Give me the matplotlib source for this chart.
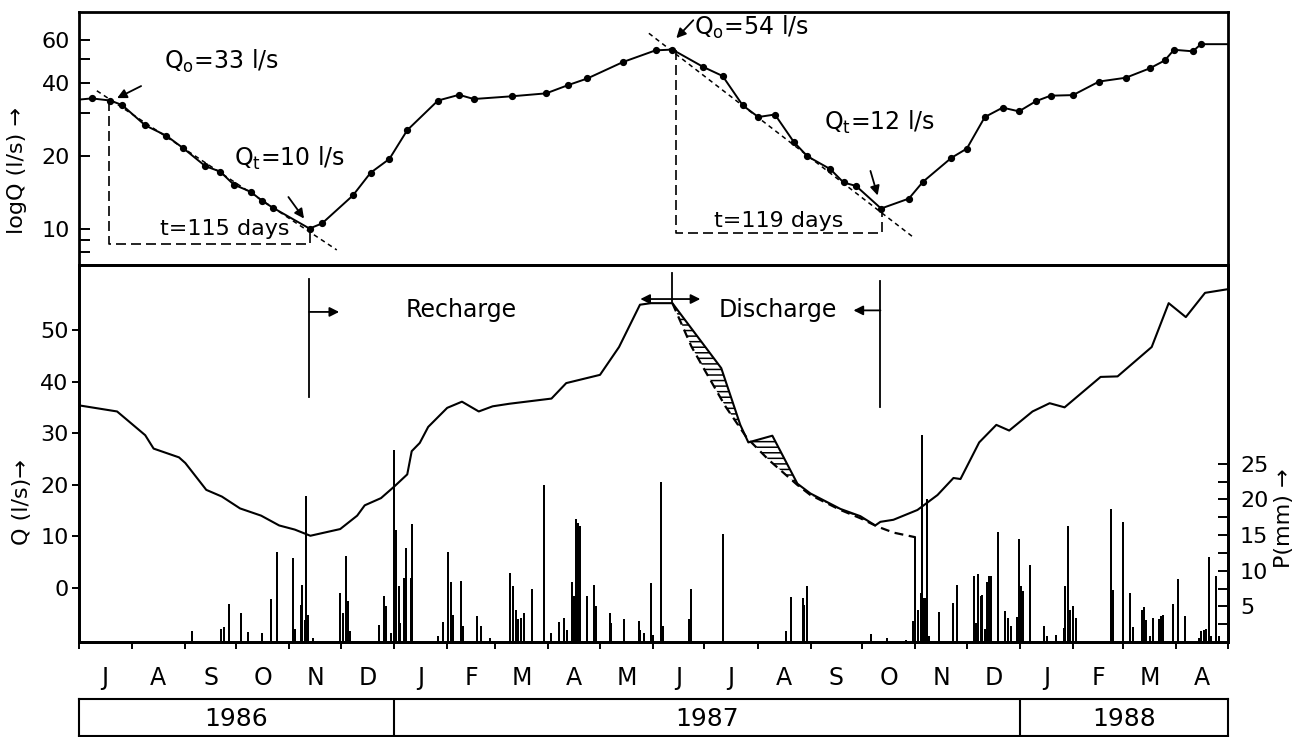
import numpy as np
import pandas as pd
import matplotlib
matplotlib.use("Agg")
import matplotlib.pyplot as plt
from matplotlib.ticker import FixedLocator, FixedFormatter, NullFormatter

plt.rcParams['font.family'] = ['DejaVu Sans']
plt.rcParams['hatch.linewidth'] = 1.1

# x values: days since 1 July 1986
START = pd.Timestamp('1986-07-01')
month_starts = pd.date_range('1986-07-01', '1988-05-01', freq='MS')
month_letters = ['J', 'A', 'S', 'O', 'N', 'D', 'J', 'F', 'M', 'A', 'M',
                 'J', 'J', 'A', 'S', 'O', 'N', 'D', 'J', 'F', 'M', 'A']
years = ['1986', '1987', '1988']
year_bounds = ['1986-07-01', '1987-01-01', '1988-01-01', '1988-05-01']

# top panel: log discharge (l/s)
logq_day = [0, 7.8, 18.6, 25.4, 38.9, 51.2, 61.0, 74.0, 82.6, 90.5,
            100.3, 107.2, 113.3, 134.7, 142.0, 160.0, 170.3, 181.3, 191.7, 209.6,
            221.9, 230.5, 252.6, 272.7, 285.7, 296.7, 317.6, 336.5, 346.3, 364.4,
            375.6, 387.3, 396.4, 406.1, 417.1, 425.0, 438.4, 446.1, 453.4, 468.0,
            484.2, 492.4, 509.0, 518.0, 528.5, 538.9, 548.4, 558.3, 566.8, 579.9,
            595.1, 610.7, 624.6, 633.4, 638.8, 649.8, 654.5, 670]
logq_val = [34.1, 34.5, 33.8, 32.4, 26.7, 24.2, 21.5, 18.1, 17.2, 15.2,
            14.2, 13.0, 12.2, 10.0, 10.5, 13.7, 17.0, 19.4, 25.5, 33.8,
            35.7, 34.3, 35.2, 36.2, 39.2, 41.7, 48.8, 54.5, 54.9, 46.5,
            42.7, 32.3, 28.9, 29.6, 22.8, 19.9, 17.6, 15.5, 15.0, 12.1,
            13.3, 15.6, 19.6, 21.4, 28.9, 31.6, 30.5, 33.6, 35.4, 35.6,
            40.5, 42.0, 45.9, 49.5, 54.8, 54.0, 57.8, 57.8]

# bottom panel: discharge Q (l/s)
q_day = [0, 22.5, 38.9, 43.8, 58.6, 62.3, 74.5, 83.6, 94.2, 106.5,
         117, 126.1, 135.2, 152.6, 162.5, 166.9, 176.4, 184.3, 191.7, 194.3,
         199, 203.9, 215, 223.6, 233.4, 241.5, 251.3, 275.8, 284.4, 304.1,
         315.2, 327.4, 333.8, 346.3, 374.8, 385.9, 390.6, 404.6, 419.2, 426.8,
         444.3, 455.9, 464.6, 467.6, 475.2, 489.2, 500.9, 510.2, 514.3, 525.2,
         535.2, 542.7, 556.3, 566.3, 575, 596, 605.9, 625.8, 635.7, 645.7,
         656.9, 670]
q_val = [35.4, 34.2, 29.6, 27.0, 25.3, 24.2, 19.0, 17.7, 15.4, 14.0,
         12.1, 11.3, 10.1, 11.4, 14.0, 16.0, 17.4, 19.7, 22.0, 26.5,
         28.1, 31.2, 34.9, 36.1, 34.2, 35.2, 35.7, 36.7, 39.7, 41.3,
         46.7, 54.9, 55.2, 55.2, 42.6, 31.6, 28.2, 29.5, 20.2, 18.3,
         15.3, 13.9, 12.1, 12.8, 13.2, 15.1, 18.0, 21.3, 21.1, 28.2,
         31.6, 30.5, 34.2, 35.8, 35.0, 40.9, 41.0, 46.7, 55.2, 52.5,
         57.2, 57.9]

# recession curve (dashed)
rec_day = [346.3, 357.4, 365.0, 377.2, 389.7, 402.2, 419.0, 426.8, 444.3, 455.9, 465.7, 475.4, 488.2]
rec_val = [55.2, 46.8, 42.3, 35.2, 29.1, 24.9, 20.0, 18.0, 15.1, 13.5, 11.9, 10.7, 9.8]

# precipitation P (mm)
p_day = [66.4, 83.0, 85.0, 88.0, 95.0, 98.7, 107.0, 112.0, 116.0, 125.0,
         126.5, 129.6, 130.6, 132.0, 132.7, 134.0, 136.7, 152.6, 154.0, 155.9,
         157.0, 158.6, 175.5, 178.2, 179.3, 182.0, 183.7, 185.0, 186.6, 187.5,
         190.0, 191.0, 193.8, 194.7, 209.6, 212.5, 215.4, 217.3, 218.3, 223.0,
         224.0, 232.5, 234.6, 239.7, 251.4, 253.3, 254.9, 256.0, 258.0, 259.5,
         264.6, 271.2, 275.6, 280.2, 283.3, 284.9, 287.5, 289.0, 290.3, 291.1,
         292.3, 296.5, 300.4, 301.8, 309.7, 310.7, 318.3, 326.8, 327.6, 329.9,
         334.0, 335.0, 339.5, 340.9, 356.2, 357.3, 375.6, 412.6, 415.5, 422.5,
         423.3, 424.9, 462.2, 471.7, 482.3, 486.5, 487.7, 489.4, 491.0, 492.0,
         493.0, 494.0, 494.9, 495.9, 501.9, 509.7, 512.4, 522.2, 523.6, 524.5,
         526.0, 527.0, 528.4, 530.0, 530.9, 531.9, 536.4, 540.2, 542.2, 543.5,
         547.4, 548.6, 549.8, 550.8, 554.8, 563.0, 564.6, 570.0, 574.7, 575.3,
         576.8, 578.0, 579.9, 581.7, 602.0, 603.4, 609.1, 613.0, 615.0, 620.2,
         621.4, 622.7, 624.7, 626.3, 630.2, 631.2, 632.2, 638.0, 640.9, 645.3,
         653.4, 654.8, 656.3, 657.3, 659.2, 660.6, 663.2, 665.1]
p_mm = [1.5, 1.8, 2.1, 5.3, 4.1, 1.4, 1.2, 6.0, 12.6, 11.8,
        1.8, 5.2, 8.0, 3.1, 20.5, 3.8, 0.6, 6.9, 4.1, 12.0,
        5.7, 1.5, 2.4, 6.4, 5.0, 1.2, 26.9, 15.7, 7.9, 2.7,
        9.0, 13.2, 9.0, 16.5, 0.9, 2.8, 12.6, 8.4, 3.8, 8.5,
        2.2, 3.6, 2.3, 0.5, 9.7, 7.8, 4.5, 3.2, 3.4, 4.1,
        7.4, 22.1, 1.2, 2.8, 3.4, 1.7, 8.4, 6.4, 17.2, 16.7,
        16.3, 6.4, 8.0, 5.0, 4.1, 2.7, 3.2, 3.0, 1.7, 1.3,
        8.3, 1.0, 22.5, 2.2, 3.2, 7.5, 15.1, 1.5, 6.3, 6.2,
        5.2, 7.9, 1.1, 0.6, 0.3, 2.9, 14.7, 4.5, 6.9, 29.1,
        6.2, 6.2, 20.0, 0.8, 4.2, 5.5, 8.0, 9.3, 2.7, 9.6,
        6.4, 6.6, 1.8, 8.4, 9.3, 9.2, 15.4, 4.3, 3.3, 2.2,
        3.5, 14.4, 7.8, 7.2, 10.8, 2.3, 0.8, 1.0, 2.0, 7.8,
        16.3, 4.5, 5.0, 3.4, 18.6, 7.3, 16.8, 6.9, 2.1, 4.5,
        4.9, 3.1, 0.9, 3.3, 3.2, 3.6, 3.8, 5.4, 8.8, 3.7,
        0.6, 1.5, 1.7, 1.8, 11.9, 0.9, 9.2, 0.9]

# ------------------------------------------------------------------
month_pos = np.array([(m - START).days for m in month_starts], dtype=float)
month_mid = (month_pos[:-1] + month_pos[1:]) / 2.0
ybounds = np.array([(pd.Timestamp(b) - START).days for b in year_bounds], dtype=float)
XMAX = month_pos[-1]

W_PX, H_PX = 1308, 737
fig = plt.figure(figsize=(W_PX / 100, H_PX / 100), dpi=100)
L = 78.5 / W_PX
W = (1227.5 - 78.5) / W_PX


def fy(px):
    return 1 - px / H_PX


ax_top = fig.add_axes([L, fy(265), W, (265 - 12) / H_PX])
ax_bot = fig.add_axes([L, fy(642), W, (642 - 265) / H_PX])
ax_p = ax_bot.twinx()
ax_yr = fig.add_axes([L, fy(736), W, (736 - 699) / H_PX])

SPW = 2.0
for ax in (ax_top, ax_bot, ax_p, ax_yr):
    for s in ax.spines.values():
        s.set_linewidth(SPW)

K = 'black'
arrow_kw = dict(arrowstyle='-|>', color=K, lw=1.3, mutation_scale=14, shrinkA=0, shrinkB=0)

# ---------------- top panel ----------------
ax_top.set_yscale('log')
ax_top.set_xlim(0, XMAX)
ax_top.set_ylim(7.07, 78.5)
ax_top.yaxis.set_major_locator(FixedLocator([10, 20, 40, 60]))
ax_top.yaxis.set_major_formatter(FixedFormatter(['10', '20', '40', '60']))
ax_top.yaxis.set_minor_locator(FixedLocator([8, 9, 30, 50]))
ax_top.yaxis.set_minor_formatter(NullFormatter())
ax_top.tick_params(axis='y', which='both', direction='in', length=8, width=1.4,
                   labelsize=16, pad=6)
ax_top.set_xticks([])

n = len(logq_day)
ax_top.plot(logq_day, logq_val, color=K, lw=1.4, marker='o', ms=4.2,
            markevery=list(range(1, n - 1)))

dash_short = (0, (3, 2.5))
dash_long = (0, (6, 3))
ax_top.plot([10.7, 150.6], [37.1, 8.16], color=K, lw=1.1, ls=dash_short)
ax_top.plot([17.6, 17.6, 134.7, 134.7], [33.8, 8.6, 8.6, 10.0], color=K, lw=1.2, ls=dash_long)
ax_top.plot([332.6, 486.0], [64.1, 9.3], color=K, lw=1.1, ls=dash_short)
ax_top.plot([348.6, 348.6, 468.8, 468.8], [54.9, 9.6, 9.6, 12.1], color=K, lw=1.2, ls=dash_long)

ax_top.annotate('', xy=(22.5, 34.6), xytext=(36.5, 38.8), arrowprops=arrow_kw)
ax_top.annotate('', xy=(131.5, 11.0), xytext=(122.4, 13.5), arrowprops=arrow_kw)
ax_top.annotate('', xy=(348.6, 61.2), xytext=(358.5, 72.6), arrowprops=arrow_kw)
ax_top.annotate('', xy=(466.0, 13.7), xytext=(461.8, 17.3), arrowprops=arrow_kw)

ax_top.text(49.9, 45.6, r'Q$_\mathrm{o}$=33 l/s', fontsize=17, ha='left', va='baseline')
ax_top.text(90.5, 18.1, r'Q$_\mathrm{t}$=10 l/s', fontsize=17, ha='left', va='baseline')
ax_top.text(85.5, 9.39, 't=115 days', fontsize=16, ha='center', va='baseline')
ax_top.text(358.7, 63.1, r'Q$_\mathrm{o}$=54 l/s', fontsize=17, ha='left', va='baseline')
ax_top.text(434.5, 25.5, r'Q$_\mathrm{t}$=12 l/s', fontsize=17, ha='left', va='baseline')
ax_top.text(408.4, 10.16, 't=119 days', fontsize=16, ha='center', va='baseline')

# ---------------- bottom panel ----------------
ax_bot.set_xlim(0, XMAX)
ax_bot.set_ylim(-10.5, 62.6)
ax_bot.set_yticks([0, 10, 20, 30, 40, 50])
ax_bot.tick_params(axis='y', direction='out', length=5, width=1.4, labelsize=16, pad=2)
ax_bot.xaxis.set_major_locator(FixedLocator(month_pos))
ax_bot.xaxis.set_major_formatter(NullFormatter())
ax_bot.xaxis.set_minor_locator(FixedLocator(month_mid))
ax_bot.xaxis.set_minor_formatter(FixedFormatter(month_letters))
ax_bot.tick_params(axis='x', which='major', direction='out', length=5, width=1.4)
ax_bot.tick_params(axis='x', which='minor', length=0, labelsize=17, pad=17)

ax_bot.plot(q_day, q_val, color=K, lw=1.5)
ax_bot.plot(rec_day, rec_val, color=K, lw=1.6, ls=(0, (4, 2.5)))

qd = np.array(q_day); qv = np.array(q_val)
rd = np.array(rec_day); rv = np.array(rec_val)
m1 = (qd >= rd[0]) & (qd <= 464.6)
m2 = rd <= 465.7
ax_bot.fill(np.concatenate([qd[m1], rd[m2][::-1]]),
            np.concatenate([qv[m1], rv[m2][::-1]]),
            facecolor='none', edgecolor=K, lw=0, hatch='---')

# recharge / discharge marks
ax_bot.plot([134.5, 134.5], [37.0, 59.9], color=K, lw=1.3)
ax_bot.annotate('', xy=(152.0, 53.5), xytext=(134.5, 53.5), arrowprops=arrow_kw)
ax_bot.text(223, 52.5, 'Recharge', fontsize=17, ha='center', va='baseline')

ax_bot.plot([346.3, 346.3], [55.2, 61.0], color=K, lw=1.3)
ax_bot.annotate('', xy=(327.6, 56.0), xytext=(346.3, 56.0), arrowprops=arrow_kw)
ax_bot.annotate('', xy=(362.6, 56.0), xytext=(346.3, 56.0), arrowprops=arrow_kw)
ax_bot.text(408, 52.6, 'Discharge', fontsize=17, ha='center', va='baseline')
ax_bot.annotate('', xy=(451.9, 53.8), xytext=(467.6, 53.8), arrowprops=arrow_kw)
ax_bot.plot([467.6, 467.6], [35.1, 59.5], color=K, lw=1.3)

# precipitation axis
ax_p.set_ylim(0, 52.9)
p_ticks = np.arange(2.5, 25.01, 2.5)
ax_p.yaxis.set_major_locator(FixedLocator(p_ticks))
ax_p.yaxis.set_major_formatter(FixedFormatter(
    [('%d' % t) if abs(t % 5) < 1e-9 else '' for t in p_ticks]))
ax_p.tick_params(axis='y', direction='in', length=7, width=1.4, labelsize=16, pad=9)
ax_p.vlines(p_day, 0, p_mm, color=K, lw=1.15, antialiased=False)

# ---------------- year box ----------------
ax_yr.set_xlim(0, XMAX)
ax_yr.set_ylim(0, 1)
ax_yr.set_xticks([]); ax_yr.set_yticks([])
for s in ax_yr.spines.values():
    s.set_linewidth(1.5)
for b in ybounds[1:-1]:
    ax_yr.axvline(b, color=K, lw=1.5)
for i, yname in enumerate(years):
    ax_yr.text((ybounds[i] + ybounds[i + 1]) / 2, 0.45, yname, fontsize=18,
               ha='center', va='center')

# axis labels
fig.text(17 / W_PX, fy(170), 'logQ (l/s) \u2192', rotation=90, fontsize=16,
         ha='center', va='center')
fig.text(22 / W_PX, fy(502), 'Q (l/s)\u2192', rotation=90, fontsize=16,
         ha='center', va='center')
fig.text(1284 / W_PX, fy(518), 'P(mm) \u2192', rotation=90, fontsize=16,
         ha='center', va='center')

fig.savefig('out.png', dpi=100)
